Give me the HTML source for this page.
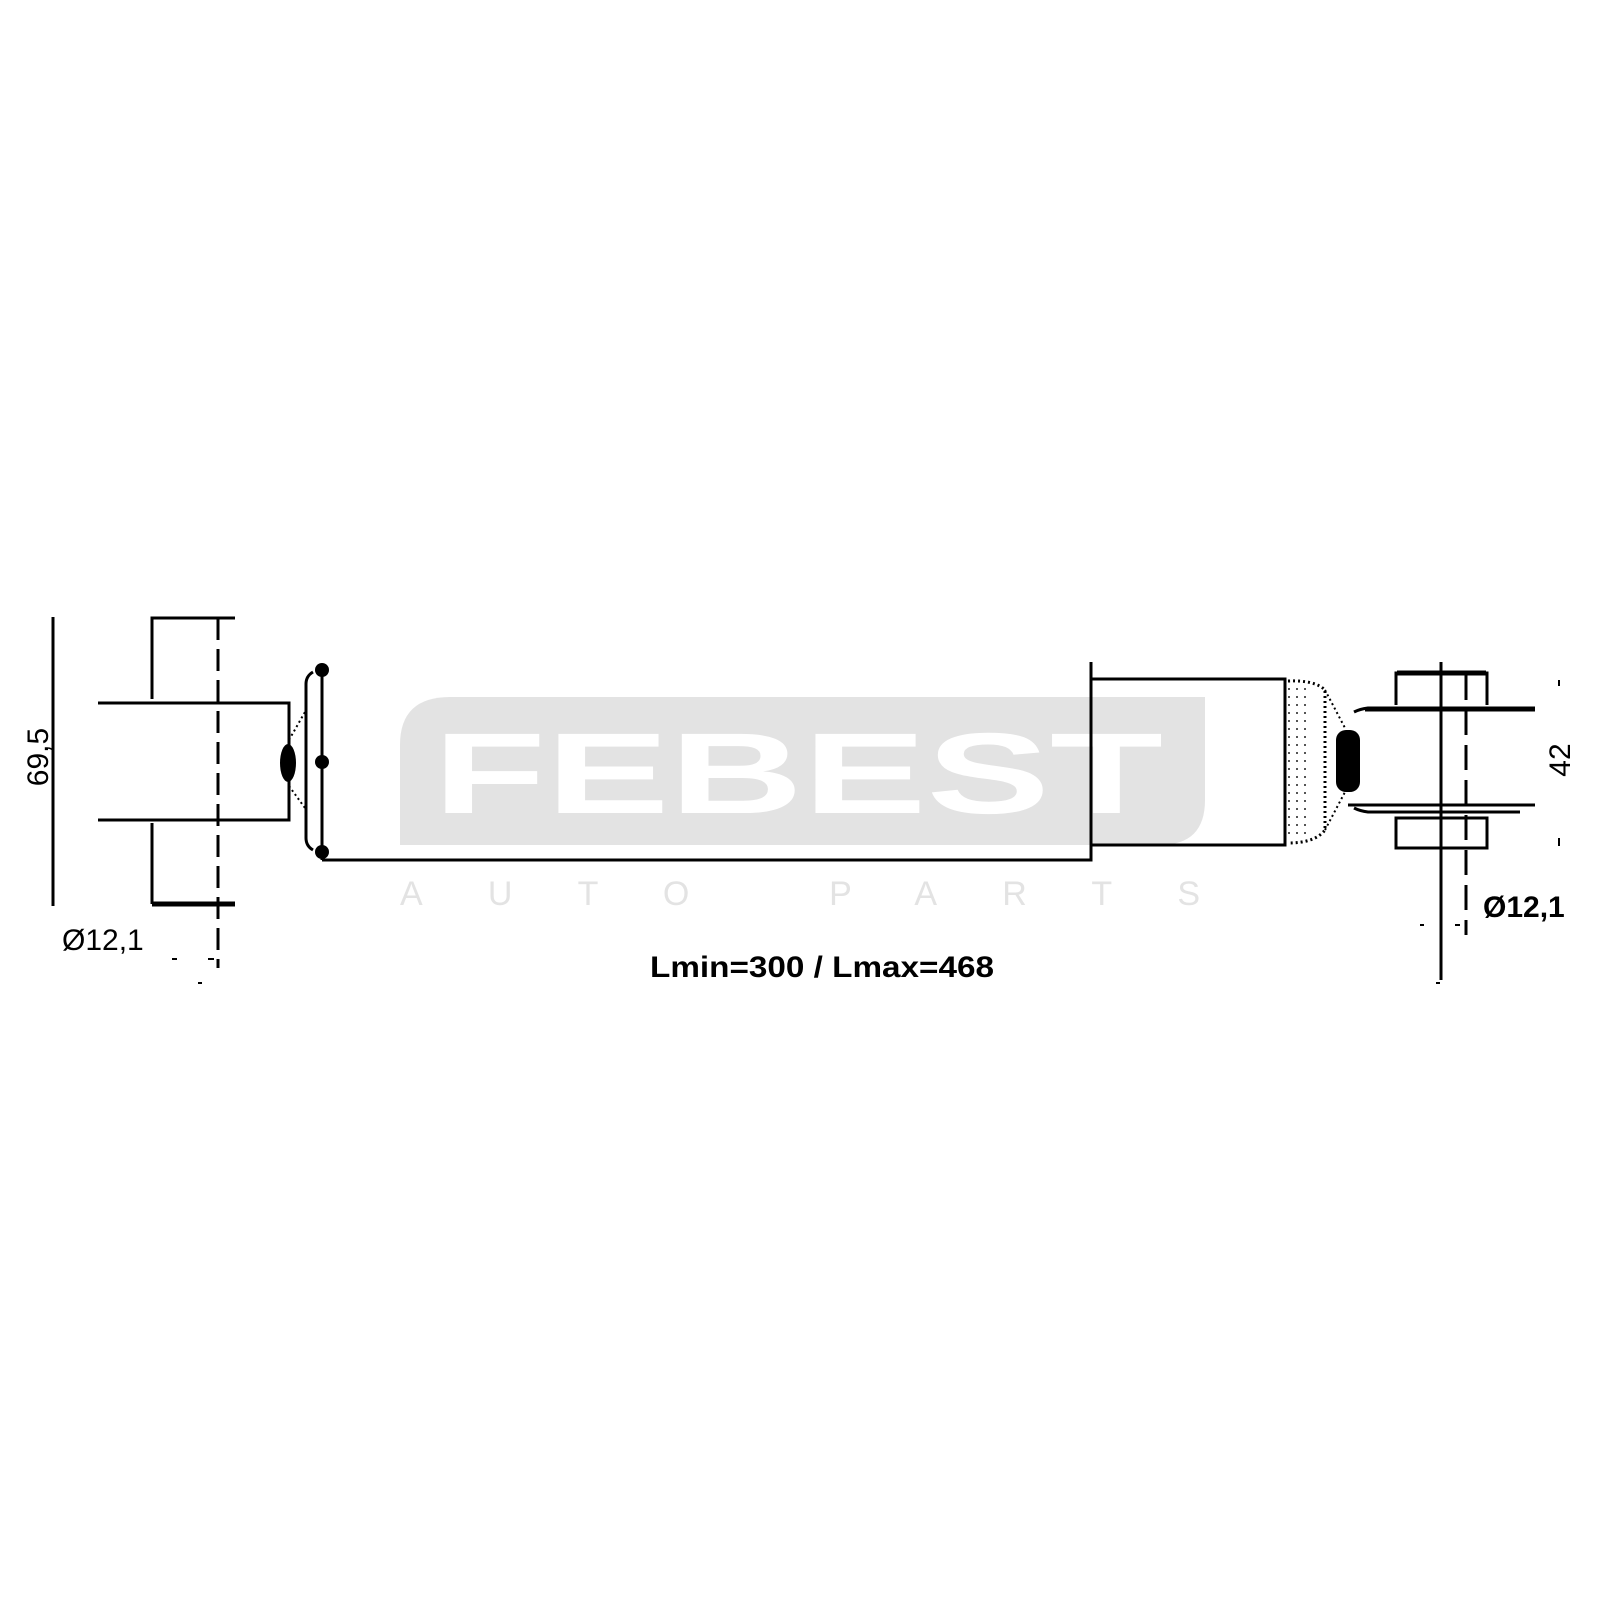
<!DOCTYPE html>
<html><head><style>body{margin:0;background:#fff}svg{display:block}</style></head>
<body>
<svg width="1600" height="1600" viewBox="0 0 1600 1600" xmlns="http://www.w3.org/2000/svg" font-family="Liberation Sans, sans-serif">
<path d="M450 697 H1205 V800 Q1205 845 1160 845 H400 V745 Q400 697 450 697 Z" fill="#e3e3e3"/>
<text x="798" y="813" text-anchor="middle" font-size="115" font-weight="bold" fill="#fff" textLength="730" lengthAdjust="spacingAndGlyphs">FEBEST</text>
<text x="800" y="905" text-anchor="middle" font-size="34" fill="#e3e3e3" textLength="800" lengthAdjust="spacing">AUTO PARTS</text>

<g stroke="#000" stroke-width="3" fill="none">
<line x1="53" y1="617" x2="53" y2="906"/>
<polyline points="235,618 152,618 152,699"/>
<polyline points="152,823 152,904"/>
<line x1="152" y1="904" x2="235" y2="904" stroke-width="5"/>
<line x1="218" y1="618" x2="218" y2="968" stroke-dasharray="22,9"/>
<polyline points="98,703 289,703 289,820 98,820"/>
<path d="M313 672 Q306 676 306 684 V838 Q306 846 313 850"/>
<line x1="322" y1="670" x2="322" y2="860"/>
<polyline points="322,860 1091,860 1091,662"/>
<polyline points="1091,679 1285,679 1285,845 1091,845"/>
<path d="M1288 681 Q1315 680 1325 690 V830 Q1315 843 1288 843" stroke-dasharray="2,3"/>
<line x1="1325" y1="690" x2="1345" y2="728" stroke-dasharray="2,3" stroke-width="2"/>
<line x1="1325" y1="830" x2="1345" y2="792" stroke-dasharray="2,3" stroke-width="2"/>
<line x1="289" y1="740" x2="305" y2="712" stroke-dasharray="2,3" stroke-width="2"/>
<line x1="289" y1="786" x2="305" y2="808" stroke-dasharray="2,3" stroke-width="2"/>
<path d="M1354 712 Q1360 709 1368 708 H1535"/>
<path d="M1354 808 Q1360 811 1368 812 H1520"/>
<line x1="1348" y1="805" x2="1535" y2="805"/>
<line x1="1365" y1="710" x2="1535" y2="710"/>
<polyline points="1396,705 1396,673 1487,673 1487,705"/>
<line x1="1397" y1="673" x2="1486" y2="673" stroke-width="5"/>
<rect x="1396" y="818" width="91" height="30"/>
<line x1="1441" y1="662" x2="1441" y2="980"/>
<line x1="1466" y1="675" x2="1466" y2="935" stroke-dasharray="25,10"/>
</g>
<g fill="#000">
<circle cx="322" cy="670" r="7"/><circle cx="322" cy="762" r="7"/><circle cx="322" cy="852" r="7"/>
<ellipse cx="288" cy="763" rx="8" ry="19"/>
<rect x="1336" y="730" width="24" height="62" rx="10"/>
<rect x="1558" y="680" width="2" height="6"/><rect x="1558" y="838" width="2" height="8"/>
<rect x="172" y="958" width="5" height="2"/><rect x="208" y="958" width="6" height="2"/><rect x="198" y="982" width="4" height="2"/>
<rect x="1420" y="924" width="4" height="2"/><rect x="1455" y="924" width="5" height="2"/><rect x="1436" y="982" width="4" height="2"/>
</g>
<rect x="1288" y="688" width="18" height="150" fill="url(#d)"/>
<defs><pattern id="d" width="8" height="8" patternUnits="userSpaceOnUse"><rect width="2" height="2" fill="#555"/></pattern></defs>

<text transform="translate(48,757) rotate(-90)" text-anchor="middle" font-size="30">69,5</text>
<text transform="translate(1570,760) rotate(-90)" text-anchor="middle" font-size="30">42</text>
<text x="62" y="950" font-size="30">Ø12,1</text>
<text x="1483" y="917" font-size="30" font-weight="bold">Ø12,1</text>
<text x="650" y="977" font-size="30" font-weight="bold" textLength="344" lengthAdjust="spacingAndGlyphs">Lmin=300 / Lmax=468</text>
</svg>
</body></html>
